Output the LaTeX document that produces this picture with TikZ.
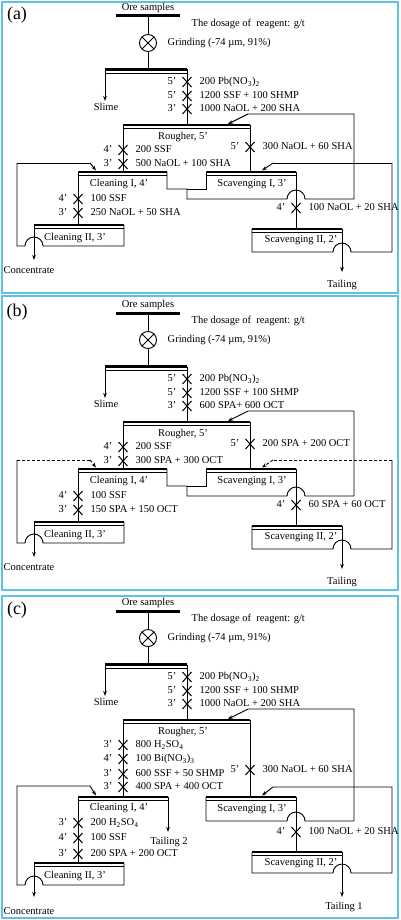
\documentclass[tikz,border=0pt]{standalone}
\usepackage{fontspec}
\setmainfont{Liberation Serif}
\usetikzlibrary{arrows.meta,positioning,shapes.misc}
\definecolor{framecyan}{RGB}{96,192,224}

% cell lip: thick froth bar with a thin line under it
\newcommand{\cellbar}[3]{%
  \draw[lipline] (#1,#3) -- (#2,#3);
  \draw[flow] (#1,#3+3.5) -- (#2,#3+3.5);}

% reagent addition: time, cross, dosage
\newcommand{\dose}[4]{%
  \node[xmark] (x-#1-#2) at (#1,#2) {};
  \node[txt, left=5.5pt of x-#1-#2] (t-#1-#2) {#3};
  \node[txt, right=7.5pt of x-#1-#2] (d-#1-#2) {#4};}

% ore, grinding, desliming and rougher (same in all panels)
\newcommand{\oretop}[4]{%
  \node[plabel] (lab) at (17,15) {(#1)};
  \node[txt] (ore) at (148,8) {Ore samples};
  \draw[orebar] (116,16) -- (180,16);
  \node[grinder] (grind) at (148,43) {};
  \draw[flow] (grind.north east) -- (grind.south west)
              (grind.north west) -- (grind.south east);
  \draw[flow] (148,16) -- (grind.north);
  \draw[flow] (grind.south) -- (148,69.5);
  \node[txt, anchor=west] (dosage) at (191,24) {The dosage of\ \ reagent: g/t};
  \node[txt, anchor=west] (grinding) at (167,43) {Grinding (-74 µm, 91\%)};
  \cellbar{105}{187}{69.5}
  \draw[flowarrow] (105,69.5) -- (105,101);
  \node[txt] (slime) at (106,108) {Slime};
  \draw[flow] (187,69.5) -- (187,125);
  \dose{187}{82}{5'}{#2}
  \dose{187}{96}{5'}{#3}
  \dose{187}{109}{3'}{#4}
  \cellbar{123}{250}{125}
  \node[txt] (rougher) at (183,137) {Rougher, 5'};}

% cleaning / scavenging circuit of panels (a) and (b)
\newcommand{\circuitab}[1]{%
  \draw[flow] (123,125) -- (123,172);
  \draw[flow] (250,125) -- (250,172);
  \cellbar{78}{167}{172}
  \node[txt] (clean1) at (119,184) {Cleaning I, 4'};
  \cellbar{206}{296}{172}
  \node[txt] (scav1) at (252,184) {Scavenging I, 3'};
  \cellbar{34}{124}{225}
  \node[txt] (clean2) at (75,238) {Cleaning II, 3'};
  \cellbar{252}{342}{229}
  \node[txt] (scav2) at (301,240) {Scavenging II, 2'};
  \draw[flow] (78,172) -- (78,225);
  \draw[flow] (296,172) -- (296,229);
  % middlings back to rougher
  \draw[flow] (167,172) |- (187,189) -- (187,199) -- (287,199)
    arc[start angle=180, end angle=360, radius=9] -- (354,199) |- (248,114);
  \draw[flow] (206,172) |- (187,189);
  \draw[flowarrow] (248,114) -- (228,124);
  % cleaning II tailing
  \draw[flow] (124,225) |- (43,246)
    arc[start angle=0, end angle=-180, radius=9] -- (17,246) -- (17,163);
  \draw[#1] (17,163) -- (90,163);
  \draw[#1, -{Stealth[length=5pt,width=3.6pt]}] (90,163) -- (96,170.5);
  % scavenging II froth
  \draw[flow] (252,229) |- (333,252)
    arc[start angle=180, end angle=360, radius=9] -- (392,252) -- (392,163);
  \draw[#1] (392,163) -- (273,163);
  \draw[#1, -{Stealth[length=5pt,width=3.6pt]}] (273,163) -- (262,170.5);
  \draw[flowarrow] (34,225) -- (34,260);
  \node[txt] (conc) at (29,271) {Concentrate};
  \draw[flowarrow] (342,229) -- (342,272);
  \node[txt] (tail) at (342,285) {Tailing};}

\begin{document}
\begin{tikzpicture}[x=1pt, y=-1pt,
    flow/.style={line width=0.9pt},
    flowarrow/.style={flow, -{Stealth[length=5pt,width=3.6pt]}},
    recycle/.style={flow, dash pattern=on 3pt off 2pt},
    lipline/.style={line width=2.4pt},
    orebar/.style={line width=3pt},
    xmark/.style={cross out, draw, line width=1pt, minimum width=8pt, minimum height=9pt, inner sep=0pt},
    grinder/.style={circle, draw, line width=0.9pt, minimum size=17pt, inner sep=0pt},
    txt/.style={font=\fontsize{10.5}{12}\selectfont, inner sep=0.5pt, text height=7.2pt, text depth=2.3pt},
    plabel/.style={font=\fontsize{18}{20}\selectfont, inner sep=0pt},
    frame/.style={draw=framecyan, line width=2pt}
]
\useasboundingbox (0,0) rectangle (400,920);

% (a) NaOL + SHA
\begin{scope}[name prefix=a-]
  \draw[frame] (2,2) rectangle (398,293);
  \oretop{a}{200 Pb(NO\textsubscript{3})\textsubscript{2}}{1200 SSF + 100 SHMP}{1000 NaOL + 200 SHA}
  \circuitab{flow}
  \dose{123}{150}{4'}{200 SSF}
  \dose{123}{164}{3'}{500 NaOL + 100 SHA}
  \dose{250}{147}{5'}{300 NaOL + 60 SHA}
  \dose{78}{199}{4'}{100 SSF}
  \dose{78}{213}{3'}{250 NaOL + 50 SHA}
  \dose{296}{208}{4'}{100 NaOL + 20 SHA}
\end{scope}

% (b) SPA + OCT
\begin{scope}[shift={(0,297)}, name prefix=b-]
  \draw[frame] (2,-1) rectangle (398,293);
  \oretop{b}{200 Pb(NO\textsubscript{3})\textsubscript{2}}{1200 SSF + 100 SHMP}{600 SPA+ 600 OCT}
  \circuitab{recycle}
  \dose{123}{150}{4'}{200 SSF}
  \dose{123}{164}{3'}{300 SPA + 300 OCT}
  \dose{250}{147}{5'}{200 SPA + 200 OCT}
  \dose{78}{199}{4'}{100 SSF}
  \dose{78}{213}{3'}{150 SPA + 150 OCT}
  \dose{296}{208}{4'}{60 SPA + 60 OCT}
\end{scope}

% (c) NaOL + SHA rougher, SPA + OCT cleaning
\begin{scope}[shift={(0,595)}, name prefix=c-]
  \draw[frame] (2,1) rectangle (398,323);
  \oretop{c}{200 Pb(NO\textsubscript{3})\textsubscript{2}}{1200 SSF + 100 SHMP}{1000 NaOL + 200 SHA}
  \draw[flow] (123,125) -- (123,202);
  \draw[flow] (250,125) -- (250,202);
  \cellbar{78}{168}{202}
  \node[txt] (clean1) at (119,213) {Cleaning I, 4'};
  \cellbar{206}{296}{202}
  \node[txt] (scav1) at (252,214) {Scavenging I, 3'};
  \cellbar{34}{124}{268}
  \node[txt] (clean2) at (75,281) {Cleaning II, 3'};
  \cellbar{252}{342}{257}
  \node[txt] (scav2) at (301,268) {Scavenging II, 2'};
  \draw[flow] (78,202) -- (78,268);
  \draw[flow] (296,202) -- (296,257);
  \draw[flowarrow] (168,202) -- (168,237);
  \node[txt] (tail2) at (169,247) {Tailing 2};
  \draw[flow] (206,202) |- (287,226)
    arc[start angle=180, end angle=360, radius=9] -- (354,226) |- (248,114);
  \draw[flowarrow] (248,114) -- (228,124);
  \draw[flow] (124,268) |- (43,290)
    arc[start angle=0, end angle=-180, radius=9] -- (17,290) |- (90,191);
  \draw[flowarrow] (90,191) -- (96,200.5);
  \draw[flow] (252,257) |- (333,278)
    arc[start angle=180, end angle=360, radius=9] -- (392,278) |- (273,192);
  \draw[flowarrow] (273,192) -- (262,200.5);
  \draw[flowarrow] (34,268) -- (34,302);
  \node[txt] (conc) at (29,317) {Concentrate};
  \draw[flowarrow] (342,257) -- (342,302);
  \node[txt] (tail1) at (344,312) {Tailing 1};
  \dose{123}{150}{3'}{800 H\textsubscript{2}SO\textsubscript{4}}
  \dose{123}{164}{4'}{100 Bi(NO\textsubscript{3})\textsubscript{3}}
  \dose{123}{179}{3'}{600 SSF + 50 SHMP}
  \dose{123}{192}{3'}{400 SPA + 400 OCT}
  \dose{250}{175}{5'}{300 NaOL + 60 SHA}
  \dose{78}{228}{3'}{200 H\textsubscript{2}SO\textsubscript{4}}
  \dose{78}{243}{4'}{100 SSF}
  \dose{78}{259}{3'}{200 SPA + 200 OCT}
  \dose{296}{237}{4'}{100 NaOL + 20 SHA}
\end{scope}
\end{tikzpicture}
\end{document}
